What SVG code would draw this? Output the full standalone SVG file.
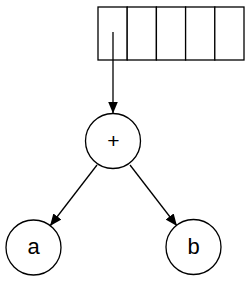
<svg xmlns="http://www.w3.org/2000/svg" width="250" height="282" viewBox="0 0 250 282">
<style>
.cell{fill:#fff;stroke:#000;stroke-width:1.3}
.node{fill:#fff;stroke:#000;stroke-width:1.3}
.edge{stroke:#000;stroke-width:1.3;fill:none}
.lbl{font-family:"Liberation Sans",Arial,sans-serif;font-size:22px;text-anchor:middle;fill:#000}
</style>
<defs>
<marker id="arr" markerWidth="12" markerHeight="10" refX="12" refY="5" orient="auto" markerUnits="userSpaceOnUse">
<path d="M0,0 L12,5 L0,10 Z" fill="#000"/>
</marker>
</defs>
<g id="array">
<rect class="cell" x="98" y="7" width="29.2" height="53"/>
<rect class="cell" x="127.2" y="7" width="29.2" height="53"/>
<rect class="cell" x="156.4" y="7" width="29.2" height="53"/>
<rect class="cell" x="185.6" y="7" width="29.2" height="53"/>
<rect class="cell" x="214.8" y="7" width="29.2" height="53"/>
</g>
<g id="connectors">
<line class="edge" x1="113" y1="32" x2="113" y2="113.5" marker-end="url(#arr)"/>
<line class="edge" x1="97" y1="165" x2="50" y2="226" marker-end="url(#arr)"/>
<line class="edge" x1="130" y1="165" x2="177" y2="226" marker-end="url(#arr)"/>
</g>
<g id="plus">
<circle class="node" cx="113" cy="141" r="27.5"/>
<text class="lbl" x="113.3" y="148.2" style="font-size:21px">+</text>
</g>
<g id="a">
<circle class="node" cx="33.5" cy="247.5" r="27.5"/>
<text class="lbl" x="33.7" y="253.5">a</text>
</g>
<g id="b">
<circle class="node" cx="193.5" cy="247" r="27.5"/>
<text class="lbl" x="193.7" y="253.5">b</text>
</g>
</svg>
